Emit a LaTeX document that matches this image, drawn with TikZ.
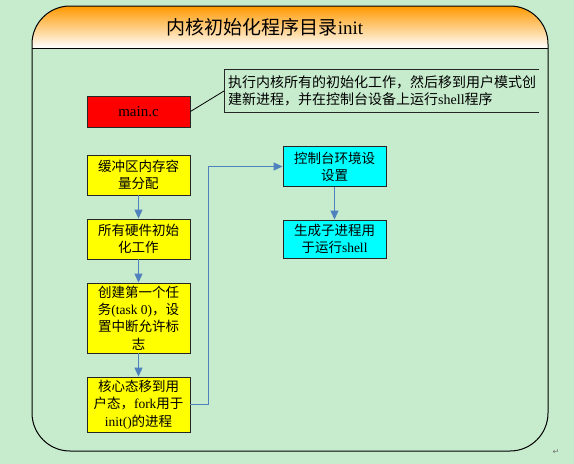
\documentclass[tikz,border=0pt]{standalone}
\usepackage{fontspec}
\setmainfont{Liberation Serif}
\newfontfamily\cjk{Noto Sans CJK SC}
\newfontfamily\symfont{DejaVu Sans}
\usetikzlibrary{positioning,arrows.meta}

\definecolor{bggreen}{RGB}{199,235,205}
\definecolor{hdorange}{RGB}{255,153,0}
\definecolor{flowblue}{RGB}{79,129,189}
\definecolor{boxcyan}{RGB}{0,255,255}
\definecolor{boxred}{RGB}{255,0,0}
\definecolor{boxyellow}{RGB}{255,255,0}
\newcommand{\zh}[1]{{\cjk #1}}

\tikzset{
  box/.style={draw=black!85, line width=0.9pt, minimum width=103pt, align=center,
    inner sep=2pt, font=\fontsize{13.5}{17.3}\selectfont},
  ybox/.style={box, fill=boxyellow},
  cbox/.style={box, fill=boxcyan},
  flow/.style={draw=flowblue, line width=1pt, -{Triangle[width=8pt,length=9pt]}},
}

\begin{document}
\begin{tikzpicture}[x=1pt,y=-1pt]
    % page and frame
    \useasboundingbox[fill=bggreen] (0,0) rectangle (574,464);
    \shade[top color=hdorange, bottom color=white]
        (32,48) [rounded corners=39pt] -- (32,6) -- (548,6) [sharp corners] -- (548,48) -- cycle;
    \draw[line width=1pt, rounded corners=38pt] (32,6) rectangle (548,451);
    \draw[line width=1pt] (32,48) -- (548,48);
    \node (title) at (265,27) {\fontsize{19}{20}\selectfont\zh{内核初始化程序目录}init};

    % main.c and its note
    \node[box, fill=boxred, minimum height=31pt, font=\fontsize{15}{17}\selectfont] (main)
        at (138.5,111.5) {main.c};
    \node[anchor=west, text width=307pt, minimum height=42pt, inner sep=4pt, align=left,
        font=\fontsize{14}{16.5}\selectfont] (note) at (224,91)
        {\zh{执行内核所有的初始化工作，然后移到用户模式创}\\
         \zh{建新进程，并在控制台设备上运行}shell\zh{程序}};
    \draw[black!85, line width=0.9pt] (note.north east) -- (note.north west)
        -- (note.south west) -- (note.south east);
    \draw[line width=0.8pt] (main.east) -- (note.west);

    % kernel steps
    \node[ybox, minimum height=40pt] (buf) at (138.5,175) {\zh{缓冲区内存容}\\\zh{量分配}};
    \node[ybox, minimum height=40pt] (hw) at (138.5,239) {\zh{所有硬件初始}\\\zh{化工作}};
    \node[ybox, minimum height=70pt] (task) at (138.5,318)
        {\zh{创建第一个任}\\\zh{务}(task 0)\zh{，设}\\\zh{置中断允许标}\\\zh{志}};
    \node[ybox, minimum height=55pt] (user) at (138.5,404.5)
        {\zh{核心态移到用}\\\zh{户态，}fork\zh{用于}\\init()\zh{的进程}};

    % init process
    \node[cbox, minimum height=40pt] (con) at (334.5,166.5) {\zh{控制台环境设}\\\zh{设置}};
    \node[cbox, minimum height=38pt] (shell) at (334.5,239) {\zh{生成子进程用}\\\zh{于运行}shell};

    % arrows
    \draw[flow] (buf) -- (hw);
    \draw[flow] (hw) -- (task);
    \draw[flow] (task) -- (user);
    \draw[flow] (user.east) -- ++(18,0) |- (con.west);
    \draw[flow] (con) -- (shell);

    \node[text=black!55, font=\symfont\fontsize{8}{8}\selectfont] (ret) at (556,452) {↵};
\end{tikzpicture}
\end{document}
